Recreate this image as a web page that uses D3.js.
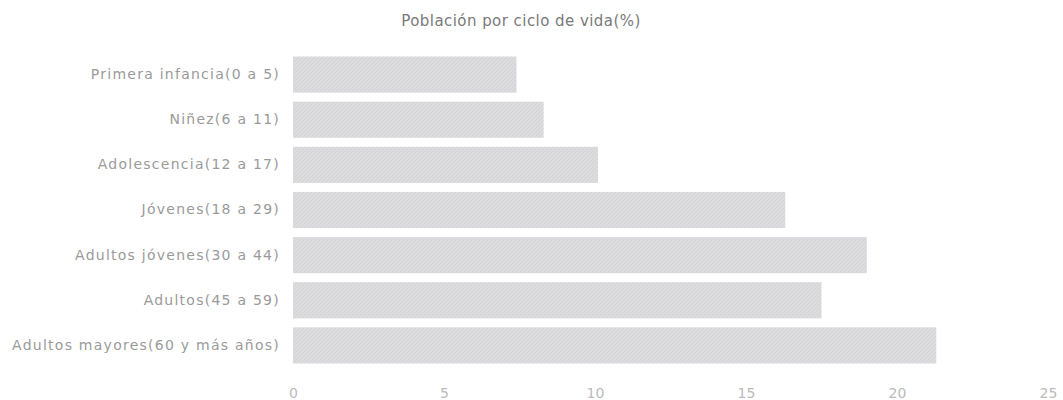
<!DOCTYPE html>
<html>
<head>
<meta charset="utf-8">
<script src="https://cdn.jsdelivr.net/npm/d3@7"></script>
<style>
  body { margin: 0; background: #fff; }
  svg text { font-family: "DejaVu Sans", sans-serif; }
</style>
</head>
<body>
<svg id="chart" width="1063" height="400"></svg>
<script>
// data
const categories = [
  "Primera infancia(0 a 5)",
  "Niñez(6 a 11)",
  "Adolescencia(12 a 17)",
  "Jóvenes(18 a 29)",
  "Adultos jóvenes(30 a 44)",
  "Adultos(45 a 59)",
  "Adultos mayores(60 y más años)"
]
const values = [7.4, 8.3, 10.1, 16.3, 19.0, 17.5, 21.3]
const xTicks = [0, 5, 10, 15, 20, 25]

const svg = d3.select("svg#chart")
const margin = {left: 293, right: 15, top: 52, bottom: 32}
const width = 1063, height = 400

const x = d3.scaleLinear()
            .domain([0, 25])
            .range([margin.left, width - margin.right])

const y = d3.scaleBand()
            .domain(categories)
            .range([margin.top, height - margin.bottom])
            .paddingInner(0.2)
            .paddingOuter(0.1)

// faint diagonal texture, like the scanned original
const defs = svg.append("defs")
const pat = defs.append("pattern")
                .attr("id", "tex")
                .attr("width", 4)
                .attr("height", 4)
                .attr("patternUnits", "userSpaceOnUse")
pat.append("rect").attr("width", 4).attr("height", 4).attr("fill", "#dcdcdf")
pat.append("path").attr("d", "M0,4 L4,0").attr("stroke", "#d3d3d7").attr("stroke-width", 1)

// title
svg.append("text")
    .attr("x", 521)
    .attr("y", 26)
    .attr("text-anchor", "middle")
    .attr("font-size", 15)
    .attr("letter-spacing", 0.45)
    .attr("fill", "#7a7a7a")
    .text("Población por ciclo de vida(%)")

// bars
svg.selectAll("rect.bar")
    .data(values)
    .join("rect")
    .attr("class", "bar")
    .attr("x", x(0))
    .attr("y", (d, i) => y(categories[i]))
    .attr("width", d => x(d) - x(0))
    .attr("height", y.bandwidth())
    .attr("fill", "url(#tex)")

// y axis labels
const yAxis = d3.axisLeft(y).tickSize(0).tickPadding(13)
svg.append("g")
    .attr("transform", `translate(${margin.left},0)`)
    .call(yAxis)
    .call(g => g.select(".domain").remove())
    .selectAll("text")
    .attr("font-size", 14)
    .attr("letter-spacing", 1.25)
    .attr("fill", "#9a9a9a")

// x axis labels
const xAxis = d3.axisBottom(x).tickValues(xTicks).tickSize(0).tickPadding(0)
svg.append("g")
    .attr("transform", `translate(0,${height - 12})`)
    .call(xAxis)
    .call(g => g.select(".domain").remove())
    .selectAll("text")
    .attr("font-size", 14)
    .attr("fill", "#bbb")
</script>
</body>
</html>
